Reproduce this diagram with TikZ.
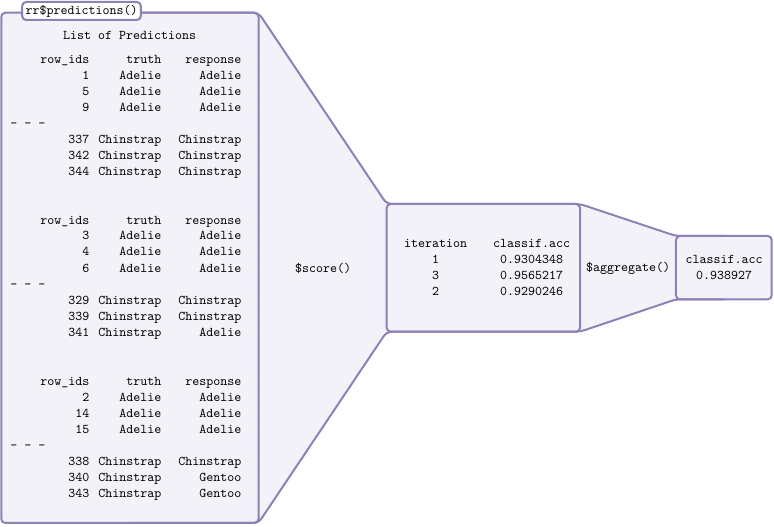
\documentclass[tikz,border=0pt]{standalone}
\usetikzlibrary{backgrounds}
\definecolor{lilac}{RGB}{143,128,182}
\definecolor{lilacfill}{RGB}{243,242,248}
\tikzset{
    box/.style={draw=lilac, fill=lilacfill, line width=1.5pt, rounded corners=3pt, inner sep=0pt, outer sep=0pt},
    funnel/.style={fill=lilacfill},
    funnelline/.style={draw=lilac, line width=1.5pt, line cap=round, rounded corners=4pt},
    tt/.style={font=\ttfamily, inner sep=0pt}
}
\begin{document}
\begin{tikzpicture}[x=0.75pt, y=-0.75pt]
    \useasboundingbox (0,0) rectangle (774,527);

    % boxes
    \node[box, minimum width=192.9pt, minimum height=382.7pt] (preds) at (129.9,267.85) {};
    \node[box, minimum width=145pt, minimum height=95.8pt] (scores) at (483.35,267.85) {};
    \node[box, minimum width=71.8pt, minimum height=47.5pt] (aggr) at (723.85,267.65) {};

    % funnels between the boxes
    \begin{scope}[on background layer]
        \fill[funnel] (preds.north east) -- (scores.north west) -- (scores.south west) -- (preds.south east) -- cycle;
        \fill[funnel] (scores.north east) -- (aggr.north west) -- (aggr.south west) -- (scores.south east) -- cycle;
    \end{scope}
    \draw[funnelline] (preds.north) -- (preds.north east) -- (scores.north west) -- (scores.north);
    \draw[funnelline] (preds.south) -- (preds.south east) -- (scores.south west) -- (scores.south);
    \draw[funnelline] (scores.north) -- (scores.north east) -- (aggr.north west) -- (aggr.north);
    \draw[funnelline] (scores.south) -- (scores.south east) -- (aggr.south west) -- (aggr.south);

    % label of the left box
    \node[draw=lilac, fill=white, line width=1.5pt, rounded corners=3pt, font=\ttfamily, inner xsep=2.5pt, inner ysep=0pt, minimum height=13.5pt] (predlabel) at (81.5,11) {rr\$predictions()};

    % predictions
    \node[tt] (predtitle) at (129.5,35) {List of Predictions};

    \node[tt, anchor=base west] (fold1) at (40,64) {%
        \begin{tabular}[t]{@{}r@{\hspace{6.75pt}}r@{\hspace{12.75pt}}r@{}}
            row\_ids & truth & response \\
            1 & Adelie & Adelie \\
            5 & Adelie & Adelie \\
            9 & Adelie & Adelie \\
            \multicolumn{3}{@{}l}{\hspace{-22.5pt}- - -} \\
            337 & Chinstrap & Chinstrap \\
            342 & Chinstrap & Chinstrap \\
            344 & Chinstrap & Chinstrap
        \end{tabular}};

    \node[tt, anchor=base west] (fold2) at (40,224) {%
        \begin{tabular}[t]{@{}r@{\hspace{6.75pt}}r@{\hspace{12.75pt}}r@{}}
            row\_ids & truth & response \\
            3 & Adelie & Adelie \\
            4 & Adelie & Adelie \\
            6 & Adelie & Adelie \\
            \multicolumn{3}{@{}l}{\hspace{-22.5pt}- - -} \\
            329 & Chinstrap & Chinstrap \\
            339 & Chinstrap & Chinstrap \\
            341 & Chinstrap & Adelie
        \end{tabular}};

    \node[tt, anchor=base west] (fold3) at (40,385) {%
        \begin{tabular}[t]{@{}r@{\hspace{6.75pt}}r@{\hspace{12.75pt}}r@{}}
            row\_ids & truth & response \\
            2 & Adelie & Adelie \\
            14 & Adelie & Adelie \\
            15 & Adelie & Adelie \\
            \multicolumn{3}{@{}l}{\hspace{-22.5pt}- - -} \\
            338 & Chinstrap & Chinstrap \\
            340 & Chinstrap & Gentoo \\
            343 & Chinstrap & Gentoo
        \end{tabular}};

    % method labels
    \node[tt] (score) at (323,268) {\$score()};
    \node[tt] (aggregate) at (628,268) {\$aggregate()};

    % scores per iteration
    \node[tt] (scoretab) at (487,268) {%
        \begin{tabular}{@{}c@{\hspace{19.5pt}}c@{}}
            iteration & classif.acc \\
            1 & 0.9304348 \\
            3 & 0.9565217 \\
            2 & 0.9290246
        \end{tabular}};

    % aggregated score
    \node[tt] (aggrtab) at (724,268.5) {%
        \begin{tabular}{@{}c@{}}
            classif.acc \\
            0.938927
        \end{tabular}};
\end{tikzpicture}
\end{document}
